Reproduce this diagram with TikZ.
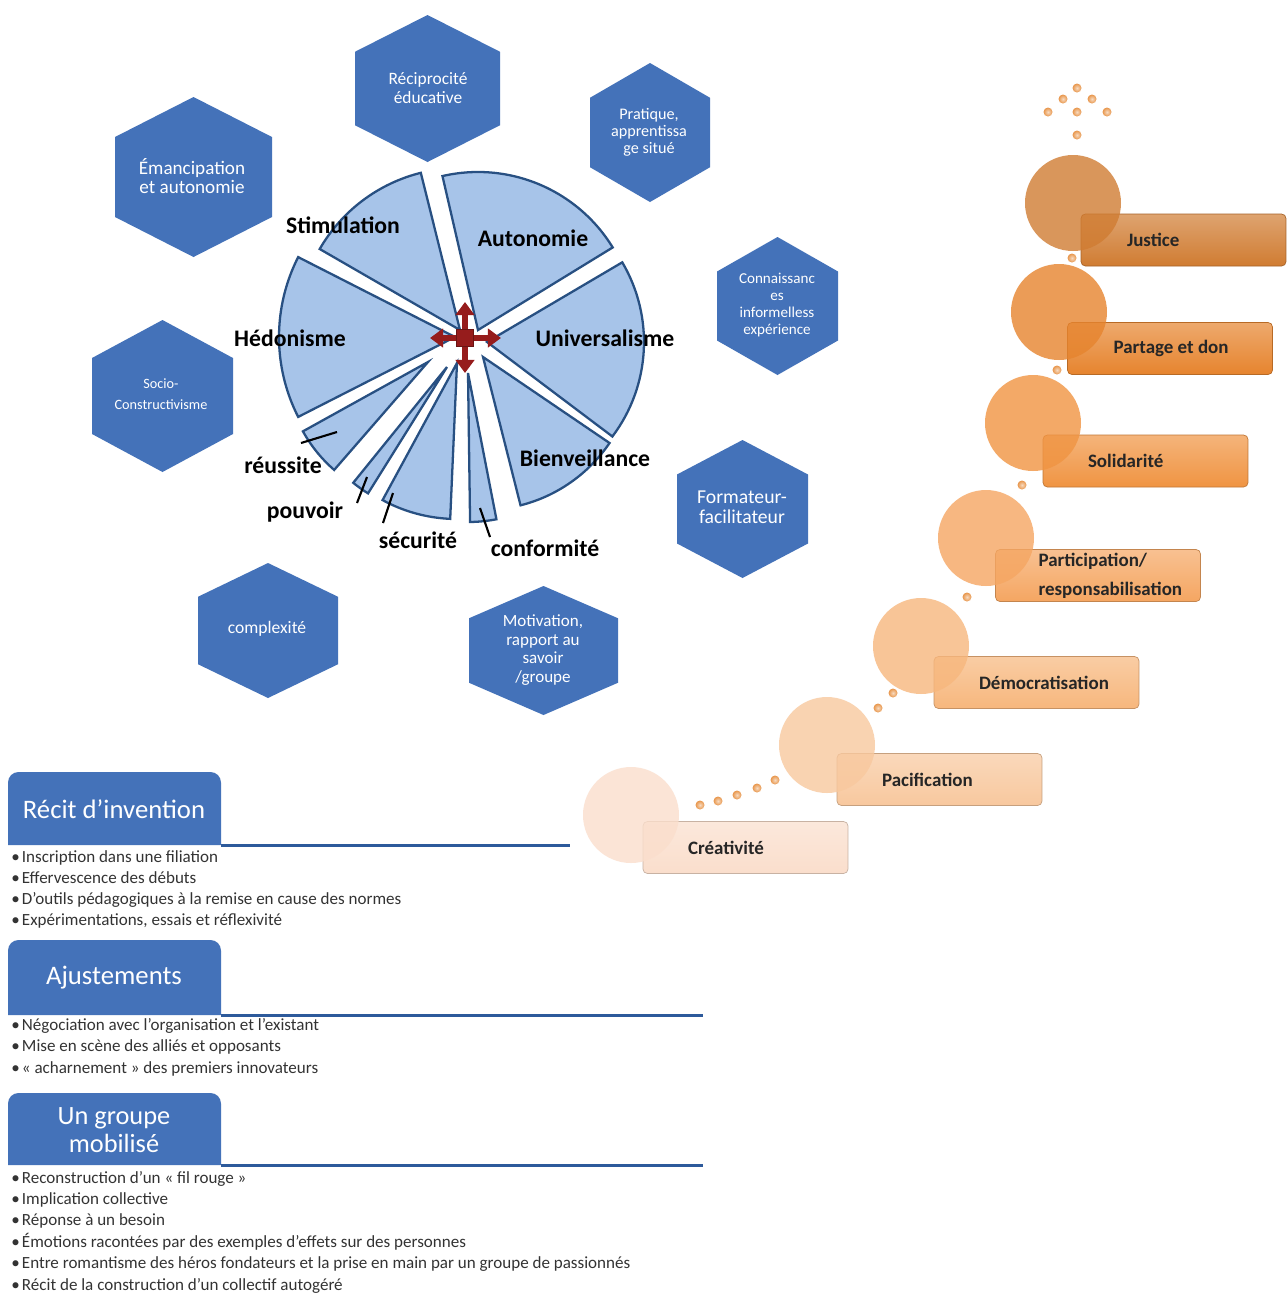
\documentclass[tikz,border=0pt]{standalone}
\usepackage{fontspec}
\setmainfont{Carlito}
\usetikzlibrary{arrows.meta}

\definecolor{hexblue}{RGB}{68,114,185}
\definecolor{slicefill}{RGB}{167,196,233}
\definecolor{sliceline}{RGB}{40,80,130}
\definecolor{crossred}{RGB}{150,28,28}
\definecolor{rulecol}{RGB}{45,90,155}
\definecolor{stepa}{RGB}{250,222,204}
\definecolor{stepb}{RGB}{248,200,158}
\definecolor{stepc}{RGB}{247,183,125}
\definecolor{stepd}{RGB}{245,166,98}
\definecolor{stepe}{RGB}{240,148,66}
\definecolor{stepf}{RGB}{230,132,46}
\definecolor{stepg}{RGB}{208,124,50}
\definecolor{dotor}{RGB}{232,150,75}

\begin{document}
\begin{tikzpicture}[x=0.02cm, y=-0.02cm,
    hexa/.style={fill=hexblue},
    hexlabel/.style={text=white, align=center, inner sep=0pt},
    slice/.style={draw=sliceline, line width=1.3pt, fill=slicefill},
    value/.style={font=\bfseries\fontsize{13.5}{15}\selectfont, inner sep=0pt},
    leader/.style={line width=1.2pt},
    cross/.style={draw=crossred, line width=3.6pt, -{Triangle[width=10.5pt,length=7.5pt]}},
    stepbox/.style={rounded corners=2.5pt, minimum width=4.1cm, minimum height=1.04cm,
        draw=#1!80!black, line width=0.4pt, top color=#1!70!white, bottom color=#1},
    steplabel/.style={font=\bfseries\fontsize{10.8}{16.4}\selectfont, text=black!85, anchor=west, align=left, inner sep=0pt},
    bead/.style={inner color=dotor!35!white, outer color=dotor},
    tabfill/.style={fill=hexblue},
    tabtext/.style={text=white, font=\fontsize{15.2}{16}\selectfont, align=center, inner sep=0pt},
    tabrule/.style={draw=rulecol, line width=1.7pt},
    item/.style={font=\fontsize{9.7}{11}\selectfont, text=black!80, anchor=base west, inner sep=0pt}]

\fill[white] (0,0) rectangle (1287,1296);
\useasboundingbox (0,0) rectangle (1287,1296);

% hexagons round the pie
\foreach \cx/\cy/\w/\h in {427.5/88.5/72.5/73.5, 193.5/177/78.5/80, 650/132.5/60/69.5, 777.5/306/60.5/69,
    162.5/396/70.5/76, 742.5/509/65.5/69, 268/630.5/70/67.5, 543.5/650.5/74.5/64.5}
    \fill[hexa] (\cx,\cy-\h) -- (\cx+\w,\cy-\h/2) -- (\cx+\w,\cy+\h/2) -- (\cx,\cy+\h)
        -- (\cx-\w,\cy+\h/2) -- (\cx-\w,\cy-\h/2) -- cycle;

\node[hexlabel, font=\fontsize{9.9}{10.8}\selectfont] (recip) at (428,88) {Réciprocité\\éducative};
\node[hexlabel, font=\fontsize{10.9}{11.3}\selectfont] (emanc) at (192,176) {Émancipation\\et autonomie};
\node[hexlabel, font=\fontsize{9.2}{9.6}\selectfont] (prat) at (649,132) {Pratique,\\apprentissa\\ge situé};
\node[hexlabel, font=\fontsize{8.6}{9.5}\selectfont] (conn) at (777,305) {Connaissanc\\es\\informelless\\expérience};
\node[hexlabel, font=\fontsize{8.1}{11.9}\selectfont] (socio) at (161,394) {Socio-\\Constructivisme};
\node[hexlabel, font=\fontsize{11.2}{11.3}\selectfont] (form) at (742,507) {Formateur-\\facilitateur};
\node[hexlabel, font=\fontsize{10}{11}\selectfont] (compl) at (267,629) {complexité};
\node[hexlabel, font=\fontsize{9.7}{10.6}\selectfont] (motiv) at (543,650) {Motivation,\\rapport au\\savoir\\/groupe};

% exploded pie
\begin{scope}[shift={(465,338)}, y=0.02cm]
  \foreach \ax/\ay/\a/\b/\r in {13/8/31.5/103/158, -5/8/104/150/162, -10/1/153/207/176,
      -37/-24/209/229/143, -18/-29/231/238/149, -8/-25/241.5/267.5/156,
      3/-35/270.8/281/149, 18/-19/284.2/325.8/153, 22/-4/-37/30.5/157}
    \draw[slice] (\ax,\ay) -- ++(\a:\r) arc[start angle=\a, end angle=\b, radius=\r] -- cycle;
\end{scope}

\node[value] (stim) at (343,225) {Stimulation};
\node[value] (auto) at (533,238) {Autonomie};
\node[value] (hedo) at (290,338) {Hédonisme};
\node[value] (univ) at (605,338) {Universalisme};
\node[value] (bienv) at (585,458) {Bienveillance};
\node[value] (reuss) at (283,465) {réussite};
\node[value] (pouv) at (305,512) {pouvoir};
\node[value] (secu) at (418,540) {sécurité};
\node[value] (conf) at (545,548) {conformité};

\coordinate (reuA) at (301,443); \coordinate (reuB) at (337,432);
\coordinate (pouA) at (357,503); \coordinate (pouB) at (367,477);
\coordinate (secA) at (383,523); \coordinate (secB) at (393,493);
\coordinate (conA) at (490,537); \coordinate (conB) at (480,508);
\foreach \s in {reu,pou,sec,con}
    \draw[leader] (\s A) -- (\s B);

% four-way arrow in the middle
\coordinate (hub) at (465,338);
\foreach \dx/\dy in {0/-36, 0/35, -35/0, 36/0}
    \draw[cross] (hub) -- ++(\dx,\dy);
\fill[crossred, draw=crossred!70!black] (456.5,329.5) rectangle (473.5,346.5);

% staircase of values
\foreach \nm/\x/\y/\col in {creat/745.5/847.5/stepa, paci/939.5/779.5/stepb, demo/1036.5/682.5/stepc,
    parti/1098/575.5/stepd, soli/1145.5/461/stepe, part/1170/348.5/stepf, just/1183.5/240/stepg}
    \node[stepbox=\col] (\nm) at (\x,\y) {};
\foreach \cx/\cy/\col in {631/815/stepa, 827/745/stepb, 921/646/stepc, 986/538/stepd,
    1033/423/stepe, 1059/312/stepf, 1073/203/stepg}
    \fill[\col, opacity=.8] (\cx,\cy) circle (48);

\node[steplabel] (creatlab) at ([xshift=0.9cm]creat.west) {Créativité};
\node[steplabel] (pacilab) at ([xshift=0.9cm]paci.west) {Pacification};
\node[steplabel] (demolab) at ([xshift=0.9cm]demo.west) {Démocratisation};
\node[steplabel] (partilab) at ([xshift=0.86cm]parti.west) {Participation/\\responsabilisation};
\node[steplabel] (solilab) at ([xshift=0.9cm]soli.west) {Solidarité};
\node[steplabel] (partlab) at ([xshift=0.92cm]part.west) {Partage et don};
\node[steplabel] (justlab) at ([xshift=0.92cm]just.west) {Justice};

\foreach \x/\y in {700/805, 718/801, 737/795, 757/788, 775/780, 878/708, 893/693, 967/597,
    1022/485, 1057/370, 1072/258, 1077/88, 1063/99, 1092/99, 1048/112, 1077/112, 1107/112, 1077/135}
    \shade[bead] (\x,\y) circle (4.5);

% narrative tabs
\foreach \t/\b/\e in {772/845/570, 940/1015/703, 1093/1165/703}{
    \fill[tabfill] (8,\b) [rounded corners=6pt] -- (8,\t) -- (221,\t) [sharp corners] -- (221,\b) -- cycle;
    \draw[tabrule] (221,\b) -- (\e,\b);
}
\node[tabtext] (recit) at (114,809) {Récit d’invention};
\node[tabtext] (ajust) at (114,978) {Ajustements};
\node[tabtext, font=\fontsize{15}{15.9}\selectfont] (groupe) at (114,1130) {Un groupe\\mobilisé};

\foreach \t [count=\i from 0] in {Inscription dans une filiation, Effervescence des débuts,
    D’outils pédagogiques à la remise en cause des normes, {Expérimentations, essais et réflexivité}}
    \node[item] (recit\i) at (11,862+21.3*\i) {•\hspace{1.2pt}\t};
\foreach \t [count=\i from 0] in {Négociation avec l’organisation et l’existant,
    Mise en scène des alliés et opposants, « acharnement » des premiers innovateurs}
    \node[item] (ajust\i) at (11,1030+21.5*\i) {•\hspace{1.2pt}\t};
\foreach \t [count=\i from 0] in {Reconstruction d’un « fil rouge », Implication collective, Réponse à un besoin,
    Émotions racontées par des exemples d’effets sur des personnes,
    Entre romantisme des héros fondateurs et la prise en main par un groupe de passionnés,
    Récit de la construction d’un collectif autogéré}
    \node[item] (groupe\i) at (11,1183+21.4*\i) {•\hspace{1.2pt}\t};
\end{tikzpicture}
\end{document}
